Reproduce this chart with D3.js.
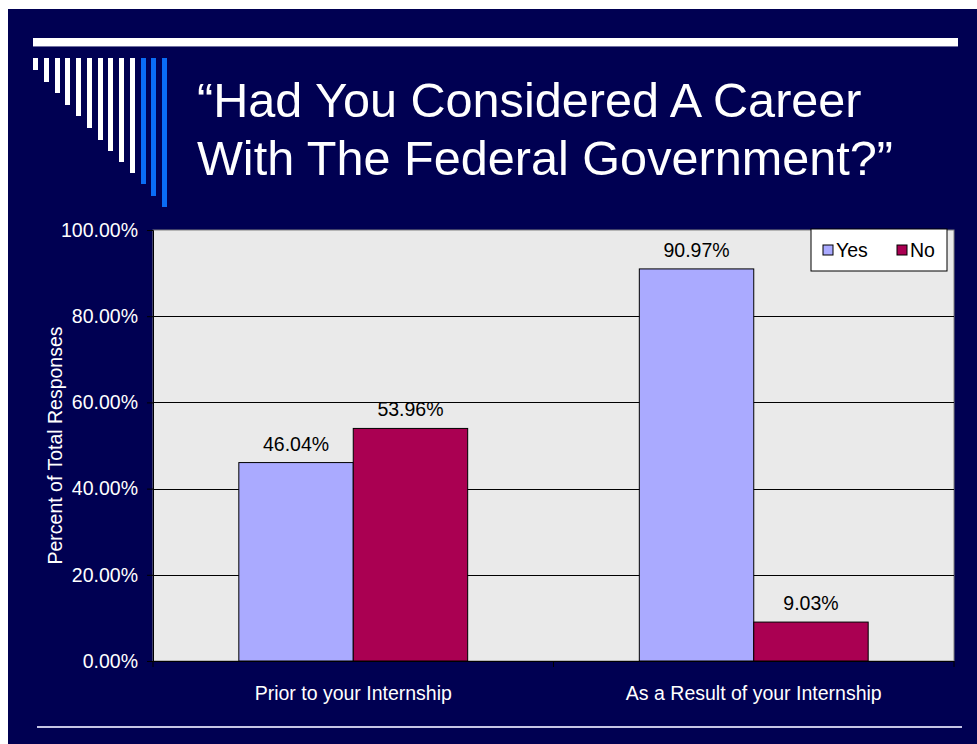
<!DOCTYPE html>
<html>
<head>
<meta charset="utf-8">
<script src="https://cdn.jsdelivr.net/npm/d3@7"></script>
<style>
  html, body { margin: 0; padding: 0; background: #ffffff; }
  svg { display: block; }
  text { font-family: "Liberation Sans", Arial, sans-serif; }
</style>
</head>
<body>
<svg id="chart" width="977" height="744"></svg>
<script>
// ---- data ----
const titleLines = ["\u201CHad You Considered A Career", "With The Federal Government?\u201D"];
const categories = ["Prior to your Internship", "As a Result of your Internship"];
const seriesNames = ["Yes", "No"];
const yesValues = [46.04, 90.97];
const noValues = [53.96, 9.03];
const yTicks = [0, 20, 40, 60, 80, 100];
const yAxisTitle = "Percent of Total Responses";
// decorative stripe lengths (slide template ornament)
const stripeLengths = [12, 24, 35, 47, 58, 70, 82, 93, 104, 115, 126, 138, 149];
const stripeBlue = [false, false, false, false, false, false, false, false, false, false, true, true, true];

const colors = { Yes: "#AAAAFF", No: "#AA0052" };
const navy = "#000052";

const svg = d3.select("#chart");
const W = 977, H = 744;

// slide background
svg.append("rect").attr("x", 0).attr("y", 0).attr("width", W).attr("height", H).attr("fill", "#ffffff");
svg.append("rect").attr("x", 8).attr("y", 9).attr("width", W - 8).attr("height", H - 9).attr("fill", navy);

// top bar
svg.append("rect").attr("x", 33).attr("y", 38).attr("width", 925).attr("height", 8).attr("fill", "#ffffff");
svg.append("line").attr("x1", 33).attr("x2", 958).attr("y1", 46.5).attr("y2", 46.5).attr("stroke", "#7070a0").attr("stroke-width", 1);

// stripes
const stripeX = d3.scaleLinear().domain([0, stripeLengths.length - 1]).range([33, 162]);
svg.append("g").selectAll("rect").data(stripeLengths).join("rect")
  .attr("x", (d, i) => Math.round(stripeX(i)))
  .attr("y", 58)
  .attr("width", 5)
  .attr("height", d => d)
  .attr("fill", (d, i) => stripeBlue[i] ? "#0A6CF5" : "#ffffff");

// title
svg.append("g").selectAll("text").data(titleLines).join("text")
  .attr("x", 197)
  .attr("y", (d, i) => 117 + i * 58)
  .attr("fill", "#ffffff")
  .attr("font-size", 48.6)
  .text(d => d);

// bottom line
svg.append("line").attr("x1", 37).attr("x2", 962).attr("y1", 727).attr("y2", 727)
  .attr("stroke", "#c4c4e4").attr("stroke-width", 2);

// ---- chart ----
const plot = { left: 153, right: 954, top: 230, bottom: 661 };

const x0 = d3.scaleBand().domain(categories).range([plot.left, plot.right]).paddingInner(0).paddingOuter(0);
const x1 = d3.scaleBand().domain(seriesNames).range([0, x0.bandwidth()]).paddingInner(0).paddingOuter(0.75);
const y = d3.scaleLinear().domain([0, 100]).range([plot.bottom, plot.top]);

// plot background
svg.append("rect").attr("x", plot.left).attr("y", plot.top)
  .attr("width", plot.right - plot.left).attr("height", plot.bottom - plot.top)
  .attr("fill", "#EAEAEA").attr("stroke", "#808080").attr("stroke-width", 1);

// gridlines
svg.append("g").selectAll("line").data(yTicks.filter(t => t > 0 && t < 100)).join("line")
  .attr("x1", plot.left).attr("x2", plot.right)
  .attr("y1", d => Math.round(y(d)) + 0.5).attr("y2", d => Math.round(y(d)) + 0.5)
  .attr("stroke", "#000000").attr("stroke-width", 1);

// bars
const rows = categories.map((c, i) => ({ cat: c, values: [
  { key: "Yes", value: yesValues[i] },
  { key: "No", value: noValues[i] }
]}));

const groups = svg.append("g").selectAll("g").data(rows).join("g")
  .attr("transform", d => `translate(${x0(d.cat)},0)`);

groups.selectAll("rect").data(d => d.values).join("rect")
  .attr("x", d => x1(d.key))
  .attr("y", d => y(d.value))
  .attr("width", x1.bandwidth())
  .attr("height", d => y(0) - y(d.value))
  .attr("fill", d => colors[d.key])
  .attr("stroke", "#000000").attr("stroke-width", 1);

groups.selectAll("text").data(d => d.values).join("text")
  .attr("x", d => x1(d.key) + x1.bandwidth() / 2)
  .attr("y", d => y(d.value) - 12)
  .attr("text-anchor", "middle")
  .attr("font-size", 19.5)
  .attr("fill", "#000000")
  .text(d => d.value.toFixed(2) + "%");

// y axis
const yAxis = d3.axisLeft(y).tickValues(yTicks).tickSize(6).tickPadding(9)
  .tickFormat(d => d.toFixed(2) + "%");
const gy = svg.append("g").attr("transform", `translate(${plot.left},0)`).call(yAxis);
gy.select(".domain").attr("stroke", "#000000");
gy.selectAll(".tick line").attr("stroke", "#000000");
gy.selectAll(".tick text").attr("fill", "#ffffff").attr("font-size", 19.5)
  .attr("font-family", "'Liberation Sans', Arial, sans-serif");

// x axis
const xAxis = d3.axisBottom(x0).tickSize(0).tickPadding(25);
const gx = svg.append("g").attr("transform", `translate(0,${plot.bottom})`).call(xAxis);
gx.select(".domain").attr("stroke", "#000000");
gx.selectAll(".tick text").attr("fill", "#ffffff").attr("font-size", 19.5)
  .attr("font-family", "'Liberation Sans', Arial, sans-serif");

// x category boundary ticks
const boundaries = [x0.range()[0]].concat(categories.map(c => x0(c) + x0.bandwidth()));
svg.append("g").selectAll("line").data(boundaries).join("line")
  .attr("x1", d => d).attr("x2", d => d)
  .attr("y1", plot.bottom).attr("y2", plot.bottom + 6)
  .attr("stroke", "#000000").attr("stroke-width", 1);

// y axis title
svg.append("text")
  .attr("transform", `translate(62,${(plot.top + plot.bottom) / 2}) rotate(-90)`)
  .attr("text-anchor", "middle")
  .attr("fill", "#ffffff")
  .attr("font-size", 19.5)
  .text(yAxisTitle);

// legend
const lg = svg.append("g").attr("transform", "translate(811,229)");
lg.append("rect").attr("x", 0).attr("y", 0).attr("width", 136).attr("height", 42)
  .attr("fill", "#ffffff").attr("stroke", "#000000").attr("stroke-width", 1);
const legendX = d3.scaleOrdinal().domain(seriesNames).range([12, 86]);
const li = lg.selectAll("g").data(seriesNames).join("g")
  .attr("transform", d => `translate(${legendX(d)},0)`);
li.append("rect").attr("x", 0).attr("y", 16).attr("width", 10).attr("height", 10)
  .attr("fill", d => colors[d]).attr("stroke", "#000000").attr("stroke-width", 1);
li.append("text").attr("x", 13).attr("y", 28).attr("font-size", 19.5).attr("fill", "#000000").text(d => d);
</script>
</body>
</html>
